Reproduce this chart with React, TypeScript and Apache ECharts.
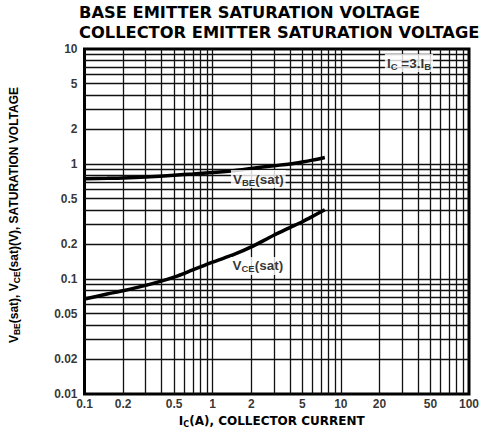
import React, { useEffect, useRef } from "react";
import * as echarts from "echarts";

const xTickLabels = [0.1, 0.2, 0.5, 1, 2, 5, 10, 20, 50, 100];
const yTickLabels = [0.01, 0.02, 0.05, 0.1, 0.2, 0.5, 1, 2, 5, 10];
const xGridValues = [
  0.2, 0.3, 0.4, 0.5, 0.6, 0.7, 0.8, 0.9, 1,
  2, 3, 4, 5, 6, 7, 8, 9, 10,
  20, 30, 40, 50, 60, 70, 80, 90,
];
const yGridValues = [
  0.02, 0.03, 0.04, 0.05, 0.06, 0.07, 0.08, 0.09, 0.1,
  0.2, 0.3, 0.4, 0.5, 0.6, 0.7, 0.8, 0.9, 1,
  2, 3, 4, 5, 6, 7, 8, 9,
];

const icAmps = [0.1, 0.15, 0.2, 0.3, 0.5, 0.7, 1, 1.5, 2, 3, 4, 5, 6, 7.5];
const vbeSat = [0.745, 0.75, 0.755, 0.77, 0.8, 0.82, 0.845, 0.88, 0.915, 0.965, 1.0, 1.04, 1.08, 1.14];
const vceSat = [0.067, 0.074, 0.079, 0.088, 0.104, 0.12, 0.14, 0.165, 0.19, 0.24, 0.28, 0.315, 0.35, 0.4];

const vbeLabelPos = [2.27, 0.74];
const vceLabelPos = [2.25, 0.13];
const condLabelPos = [34, 7.55];

const FONT = "Liberation Sans, Arial, sans-serif";
const WIDE = "DejaVu Sans, sans-serif";

export default function App() {
  const ref = useRef<HTMLDivElement>(null);
  useEffect(() => {
    if (!ref.current) return;
    const chart = echarts.init(ref.current, null, { renderer: "svg" });
    const gridLine = { color: "#111", width: 1.3, type: "solid" as const };
    const annRich = {
      m: { fontFamily: FONT, fontWeight: "bold", fontSize: 13.5, lineHeight: 16, color: "#000" },
      s: { fontFamily: FONT, fontWeight: "bold", fontSize: 9.5, lineHeight: 10, verticalAlign: "bottom", color: "#000" },
    };
    chart.setOption({
      animation: false,
      backgroundColor: "#fff",
      title: {
        text: "BASE EMITTER SATURATION VOLTAGE\nCOLLECTOR EMITTER SATURATION VOLTAGE",
        left: 79,
        top: 2,
        padding: 0,
        textStyle: { fontFamily: WIDE, fontWeight: "bold", fontSize: 16.3, lineHeight: 20, color: "#000" },
      },
      grid: { left: 83, top: 49, width: 386, height: 345, show: true, borderColor: "#000", borderWidth: 3, backgroundColor: "transparent" },
      xAxis: {
        type: "log",
        logBase: 10,
        min: 0.1,
        max: 100,
        axisLine: { show: false },
        axisTick: { show: false },
        axisLabel: { show: false },
        splitLine: { show: false },
        name: "{m|I}{s|C}{m|(A), COLLECTOR CURRENT}",
        nameLocation: "middle",
        nameGap: 20,
        nameTextStyle: {
          padding: [0, 10, 0, 0],
          rich: {
            m: { fontFamily: WIDE, fontWeight: "bold", fontSize: 12, lineHeight: 14, color: "#000" },
            s: { fontFamily: WIDE, fontWeight: "bold", fontSize: 8, lineHeight: 9, verticalAlign: "bottom", color: "#000" },
          },
        },
      },
      yAxis: {
        type: "log",
        logBase: 10,
        min: 0.01,
        max: 10,
        axisLine: { show: false },
        axisTick: { show: false },
        axisLabel: { show: false },
        splitLine: { show: false },
        name: "{m|V}{s|BE}{m|(sat), V}{s|CE}{m|(sat)(V), SATURATION VOLTAGE}",
        nameLocation: "middle",
        nameGap: 63,
        nameTextStyle: {
          padding: [0, 0, 0, 13],
          rich: {
            m: { fontFamily: FONT, fontWeight: "bold", fontSize: 12, lineHeight: 15, color: "#000" },
            s: { fontFamily: FONT, fontWeight: "bold", fontSize: 8.5, lineHeight: 10, verticalAlign: "bottom", color: "#000" },
          },
        },
      },
      series: [
        {
          type: "scatter",
          name: "xticks",
          silent: true,
          clip: false,
          symbolSize: 0,
          data: xTickLabels.map((v) => [v, 0.01]),
          label: {
            show: true,
            position: "bottom",
            distance: 4,
            formatter: (p: any) => String(p.value[0]),
            fontFamily: FONT,
            fontWeight: "bold",
            fontSize: 12,
            color: "#000",
          },
          markLine: {
            silent: true,
            symbol: "none",
            label: { show: false },
            lineStyle: gridLine,
            data: [
              ...xGridValues.map((v) => ({ xAxis: v })),
              ...yGridValues.map((v) => ({ yAxis: v })),
            ],
          },
        },
        {
          type: "scatter",
          name: "yticks",
          silent: true,
          clip: false,
          symbolSize: 0,
          data: yTickLabels.map((v) => [0.1, v]),
          label: {
            show: true,
            position: "left",
            distance: 7,
            formatter: (p: any) => String(p.value[1]),
            fontFamily: FONT,
            fontWeight: "bold",
            fontSize: 12,
            color: "#000",
          },
        },
        {
          type: "line",
          name: "VBE(sat)",
          smooth: 0.3,
          showSymbol: false,
          data: icAmps.map((x, i) => [x, vbeSat[i]]),
          lineStyle: { color: "#000", width: 3.5 },
          z: 5,
        },
        {
          type: "line",
          name: "VCE(sat)",
          smooth: 0.3,
          showSymbol: false,
          data: icAmps.map((x, i) => [x, vceSat[i]]),
          lineStyle: { color: "#000", width: 3.5 },
          z: 5,
        },
        {
          type: "scatter",
          name: "annotations",
          silent: true,
          clip: false,
          symbolSize: 0,
          z: 6,
          data: [
            { value: vbeLabelPos, label: { formatter: "{m|V}{s|BE}{m|(sat)}" } },
            { value: vceLabelPos, label: { formatter: "{m|V}{s|CE}{m|(sat)}" } },
            { value: condLabelPos, label: { formatter: "{m|I}{s|C}{m| =3.I}{s|B}" } },
          ],
          label: {
            show: true,
            position: "inside",
            backgroundColor: "#fff",
            padding: [1, 2, 1, 2],
            rich: annRich,
          },
        },
      ],
    });
    return () => chart.dispose();
  }, []);
  return (
    <div
      ref={ref}
      style={{ position: "fixed", left: 0, top: 0, width: 486, height: 441 }}
    />
  );
}
